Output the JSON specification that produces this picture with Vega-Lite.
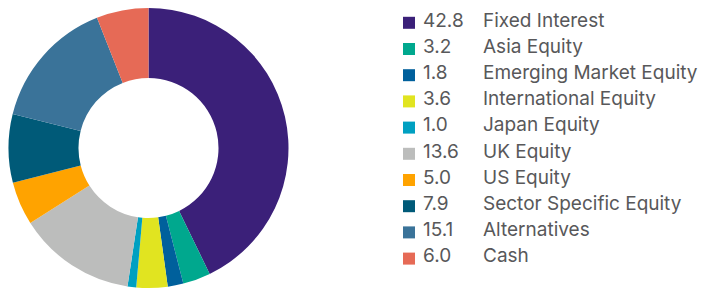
{
  "$schema": "https://vega.github.io/schema/vega-lite/v6.json",
  "padding": {"left": 0, "top": 7, "right": 0, "bottom": 0},
  "background": "white",
  "config": {"view": {"stroke": null}},
  "data": {"values": [
    {"label": "Fixed Interest", "value": 42.8, "order": 1},
    {"label": "Asia Equity", "value": 3.2, "order": 2},
    {"label": "Emerging Market Equity", "value": 1.8, "order": 3},
    {"label": "International Equity", "value": 3.6, "order": 4},
    {"label": "Japan Equity", "value": 1.0, "order": 5},
    {"label": "UK Equity", "value": 13.6, "order": 6},
    {"label": "US Equity", "value": 5.0, "order": 7},
    {"label": "Sector Specific Equity", "value": 7.9, "order": 8},
    {"label": "Alternatives", "value": 15.1, "order": 9},
    {"label": "Cash", "value": 6.0, "order": 10}
  ]},
  "spacing": 106,
  "hconcat": [
    {
      "width": 297, "height": 282,
      "mark": {"type": "arc", "outerRadius": 140, "innerRadius": 70},
      "encoding": {
        "theta": {"field": "value", "type": "quantitative", "stack": true},
        "order": {"field": "order", "type": "quantitative"},
        "color": {"field": "label", "type": "nominal", "legend": null,
          "scale": {"domain": ["Fixed Interest","Asia Equity","Emerging Market Equity","International Equity","Japan Equity","UK Equity","US Equity","Sector Specific Equity","Alternatives","Cash"],
                    "range": ["#3b2079","#00a88e","#00609c","#e1e420","#00a0c1","#bcbdbc","#ffa300","#005a78","#3a7399","#e66a56"]}}
      }
    },
    {
      "spacing": 8,
      "hconcat": [
        {
          "width": 12, "height": 262,
          "mark": {"type": "point", "shape": "square", "filled": true, "size": 144, "opacity": 1, "yOffset": 2.7},
          "encoding": {
            "y": {"field": "label", "type": "nominal", "sort": null, "axis": null, "scale": {"paddingInner": 0, "paddingOuter": 0}},
            "x": {"datum": 0.5, "type": "quantitative", "scale": {"domain": [0, 1]}, "axis": null},
            "color": {"field": "label", "type": "nominal", "legend": null}
          }
        },
        {
          "width": 52, "height": 262,
          "mark": {"type": "text", "align": "left", "baseline": "middle", "dy": 0.5, "font": "Inter", "fontSize": 19, "color": "#58585a"},
          "encoding": {
            "y": {"field": "label", "type": "nominal", "sort": null, "axis": null, "scale": {"paddingInner": 0, "paddingOuter": 0}},
            "x": {"datum": 0, "type": "quantitative", "scale": {"domain": [0, 1]}, "axis": null},
            "text": {"field": "value", "type": "quantitative", "format": ".1f"}
          }
        },
        {
          "width": 220, "height": 262,
          "mark": {"type": "text", "align": "left", "baseline": "middle", "dy": 0.5, "font": "Inter", "fontSize": 19, "color": "#58585a"},
          "encoding": {
            "y": {"field": "label", "type": "nominal", "sort": null, "axis": null, "scale": {"paddingInner": 0, "paddingOuter": 0}},
            "x": {"datum": 0, "type": "quantitative", "scale": {"domain": [0, 1]}, "axis": null},
            "text": {"field": "label", "type": "nominal"}
          }
        }
      ]
    }
  ]
}
